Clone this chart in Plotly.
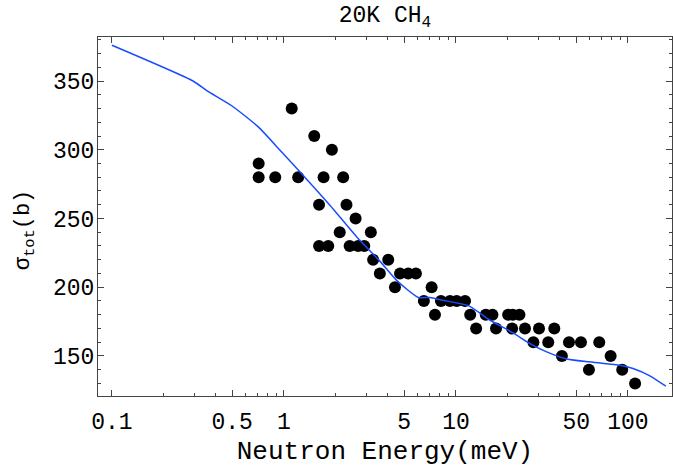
import plotly.graph_objects as go

# measured data points (Neutron energy in meV, total cross-section in barns)
energy_pts = [0.713, 0.713, 0.89, 1.11, 1.21, 1.5, 1.6, 1.6, 1.70, 1.81, 1.9, 2.11, 2.21, 2.31,
              2.41, 2.61, 2.70, 2.93, 3.2, 3.3, 3.61, 4.04, 4.42, 4.73, 5.28, 5.85, 6.51, 7.22,
              7.55, 8.18, 9.23, 10.1, 11.3, 12.1, 13.1, 14.9, 16.3, 17.1, 20.1, 21.2, 21.4, 23.4,
              25.2, 28.2, 30.4, 34.4, 37.3, 41.3, 45.4, 53.3, 59.3, 68.1, 79.3, 92.6, 110]
sigma_pts = [290, 280, 280, 330, 280, 310, 260, 230, 280, 230, 300, 240, 280, 260,
             230, 250, 230, 230, 240, 220, 210, 220, 200, 210, 210, 210, 190, 200,
             180, 190, 190, 190, 190, 180, 170, 180, 180, 170, 180, 170, 180, 180,
             170, 160, 170, 160, 170, 150, 160, 160, 140, 160, 150, 140, 130]

# model curve
energy_curve = [0.1, 0.296, 0.356, 0.497, 0.709, 0.949, 1.29, 1.85, 2.65, 3.61, 4.52, 6.04,
                7.06, 8.26, 11.8, 15.8, 21.5, 26.9, 33.7, 44.0, 62.9, 89.7, 107, 134, 166]
sigma_curve = [376, 350, 343, 332, 316.6, 299.6, 281.5, 259.7, 236.6, 219, 205, 192.6,
               192.6, 190.7, 186.6, 176, 166.8, 159, 153, 147.8, 145.4, 143.3, 140.9, 135.6, 128]

x_tickvals = [0.1, 0.5, 1, 5, 10, 50, 100]
x_ticktext = ["0.1", "0.5", "1", "5", "10", "50", "100"]
x_minor = [0.2, 0.3, 0.4, 0.6, 0.7, 0.8, 0.9, 2, 3, 4, 6, 7, 8, 9,
           20, 30, 40, 60, 70, 80, 90, 200]
y_tickvals = [150, 200, 250, 300, 350]

MONO = "Liberation Mono, Courier New, monospace"

fig = go.Figure()
fig.add_trace(go.Scatter(x=energy_pts, y=sigma_pts, mode="markers",
                         marker=dict(color="black", size=12, line=dict(width=0)),
                         showlegend=False))
fig.add_trace(go.Scatter(x=energy_curve, y=sigma_curve, mode="lines",
                         line=dict(color="#1a4cff", width=1.5, shape="spline", smoothing=0.6),
                         showlegend=False))

tickfont = dict(family=MONO, size=23, color="black")
titlefont = dict(family=MONO, size=26, color="black")

fig.update_layout(
    width=673, height=474,
    margin=dict(l=98, r=1, t=37, b=78),
    paper_bgcolor="white", plot_bgcolor="white",
    title=dict(text="20K CH<sub>4</sub>", xref="paper", x=0.5, xanchor="center",
               yref="container", y=0.97, yanchor="middle",
               font=dict(family=MONO, size=23, color="black")),
    xaxis=dict(type="log", range=[-1.081, 2.256], showgrid=False, zeroline=False,
               showline=True, linecolor="#444", linewidth=1, mirror="ticks",
               ticks="inside", ticklen=6, tickcolor="#444",
               tickmode="array", tickvals=x_tickvals, ticktext=x_ticktext,
               tickfont=tickfont, ticklabelstandoff=4,
               minor=dict(ticks="inside", ticklen=3, tickcolor="#444",
                          tickmode="array", tickvals=x_minor),
               title=dict(text="Neutron Energy(meV)", font=titlefont, standoff=6)),
    yaxis=dict(range=[120.9, 382], showgrid=False, zeroline=False,
               showline=True, linecolor="#444", linewidth=1, mirror="ticks",
               ticks="inside", ticklen=6, tickcolor="#444",
               tickmode="array", tickvals=y_tickvals,
               tickfont=tickfont, ticklabelstandoff=-2,
               minor=dict(ticks="inside", ticklen=3, tickcolor="#444", dtick=10)),
    annotations=[dict(text="σ<sub>tot</sub>(b)", textangle=-90, showarrow=False,
                      xref="paper", yref="paper", x=-0.127, y=0.462,
                      xanchor="center", yanchor="middle",
                      font=dict(family=MONO, size=22, color="black"))],
)

fig.write_html("out.html")
